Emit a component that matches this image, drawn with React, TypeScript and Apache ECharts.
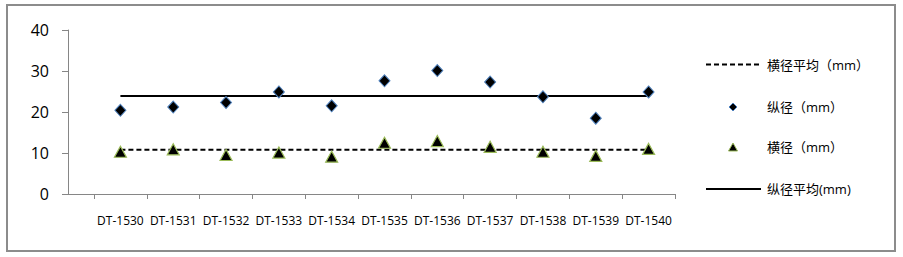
import React, { useEffect, useRef } from "react";
import * as echarts from "echarts";

const categories = ["DT-1530", "DT-1531", "DT-1532", "DT-1533", "DT-1534", "DT-1535", "DT-1536", "DT-1537", "DT-1538", "DT-1539", "DT-1540"];
const longDiameter = [20.4, 21.2, 22.3, 24.9, 21.5, 27.6, 30.1, 27.3, 23.7, 18.5, 24.9];
const shortDiameter = [10.3, 10.9, 9.5, 10.1, 9.1, 12.5, 12.9, 11.5, 10.3, 9.3, 11.0];
const longAvg = [23.9, 23.9, 23.9, 23.9, 23.9, 23.9, 23.9, 23.9, 23.9, 23.9, 23.9];
const shortAvg = [10.8, 10.8, 10.8, 10.8, 10.8, 10.8, 10.8, 10.8, 10.8, 10.8, 10.8];
const yTicks = [0, 10, 20, 30, 40];

const FONT = "'Open Sans', 'Noto Sans CJK SC', sans-serif";
const AXIS = "#868686";

export default function App() {
  const ref = useRef<HTMLDivElement>(null);
  useEffect(() => {
    if (!ref.current) return;
    const chart = echarts.init(ref.current, null, { renderer: "svg" });
    const legendText = (y: number, text: string) => ({
      type: "text",
      x: 767,
      y,
      style: { text, font: `13px ${FONT}`, fill: "#000", textVerticalAlign: "middle" },
    });
    chart.setOption({
      animation: false,
      backgroundColor: "#fff",
      grid: [
        { left: 68, top: 30, width: 607, height: 164 },
        { left: 94, top: 30, width: 581, height: 164 },
      ],
      xAxis: [
        {
          gridIndex: 0, type: "value", min: 0, max: 1,
          axisLine: { show: true, lineStyle: { color: AXIS, width: 1 } },
          axisTick: { show: false }, axisLabel: { show: false }, splitLine: { show: false },
        },
        {
          gridIndex: 1, type: "category", data: categories, boundaryGap: true,
          axisLine: { show: true, lineStyle: { color: AXIS, width: 1 } },
          axisTick: { show: true, length: 5, lineStyle: { color: AXIS } },
          axisLabel: { margin: 20, fontSize: 12, color: "#000", fontFamily: FONT, interval: 0 },
          splitLine: { show: false },
        },
      ],
      yAxis: [
        {
          gridIndex: 0, type: "value", min: yTicks[0], max: yTicks[yTicks.length - 1], interval: 10,
          axisLine: { show: true, lineStyle: { color: AXIS, width: 1 } },
          axisTick: { show: true, length: 6, lineStyle: { color: AXIS } },
          axisLabel: { margin: 19, fontSize: 16, color: "#000", fontFamily: FONT },
          splitLine: { show: false },
        },
        {
          gridIndex: 1, type: "value", min: 0, max: 40, interval: 10, show: false,
          splitLine: { show: false },
        },
      ],
      series: [
        {
          name: "横径平均（mm）", type: "line", xAxisIndex: 1, yAxisIndex: 1, data: shortAvg,
          showSymbol: false, lineStyle: { color: "#000", width: 2, type: [5, 3] }, z: 2,
        },
        {
          name: "纵径平均(mm)", type: "line", xAxisIndex: 1, yAxisIndex: 1, data: longAvg,
          showSymbol: false, lineStyle: { color: "#000", width: 2 }, z: 2,
        },
        {
          name: "纵径（mm）", type: "scatter", xAxisIndex: 1, yAxisIndex: 1, data: longDiameter,
          symbol: "diamond", symbolSize: [11, 12],
          itemStyle: { color: "#000", borderColor: "#4F81BD", borderWidth: 1, opacity: 1 }, z: 3,
        },
        {
          name: "横径（mm）", type: "scatter", xAxisIndex: 1, yAxisIndex: 1, data: shortDiameter,
          symbol: "triangle", symbolSize: [12, 11],
          itemStyle: { color: "#000", borderColor: "#9BBB59", borderWidth: 1.2, opacity: 1 }, z: 3,
        },
      ],
      graphic: [
        {
          type: "rect", shape: { x: 7, y: 5, width: 888, height: 246 },
          style: { fill: "none", stroke: "#8c8c8c", lineWidth: 2 }, z: -1,
        },
        {
          type: "line", shape: { x1: 706, y1: 64.5, x2: 761, y2: 64.5 },
          style: { stroke: "#000", lineWidth: 2, lineDash: [5, 3] },
        },
        legendText(64.5, "横径平均（mm）"),
        {
          type: "polygon", shape: { points: [[733, 103], [737, 107], [733, 111], [729, 107]] },
          style: { fill: "#000", stroke: "#4F81BD", lineWidth: 1 },
        },
        legendText(107, "纵径（mm）"),
        {
          type: "polygon", shape: { points: [[733, 143], [737.5, 151], [728.5, 151]] },
          style: { fill: "#000", stroke: "#9BBB59", lineWidth: 1 },
        },
        legendText(147, "横径（mm）"),
        {
          type: "line", shape: { x1: 706, y1: 189, x2: 761, y2: 189 },
          style: { stroke: "#000", lineWidth: 2 },
        },
        legendText(189, "纵径平均(mm)"),
      ],
    });
    return () => chart.dispose();
  }, []);
  return (
    <div
      ref={ref}
      style={{ position: "absolute", left: 0, top: 0, width: 903, height: 257 }}
    />
  );
}
